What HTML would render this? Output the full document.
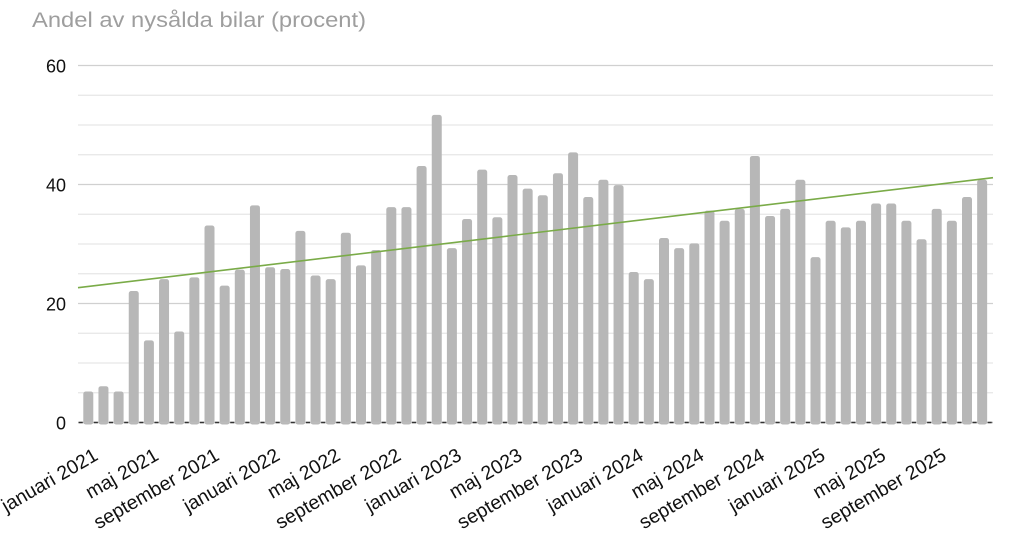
<!DOCTYPE html>
<html><head><meta charset="utf-8"><style>
html,body{margin:0;padding:0;background:#fff;width:1024px;height:553px;overflow:hidden}
svg{display:block}
text{font-family:"Liberation Sans",Arial,sans-serif}
</style></head><body>
<svg id="c" width="1024" height="553" xmlns="http://www.w3.org/2000/svg">
<text x="32" y="27" font-size="21" fill="#9e9e9e" textLength="334" lengthAdjust="spacingAndGlyphs">Andel av nysålda bilar (procent)</text>
<g id="grid"></g>
<g id="bars"></g>
<g id="lab"></g>
<line x1="78" y1="287.7" x2="993" y2="177.7" stroke="#7aab48" stroke-width="1.6"/>
</svg>
<script>
const v=[5.2,6.1,5.2,22.1,13.8,24.1,15.3,24.4,33.1,23.0,25.7,36.5,26.1,25.8,32.2,24.7,24.1,31.9,26.4,29.0,36.2,36.2,43.1,51.7,29.3,34.2,42.5,34.5,41.6,39.3,38.2,41.9,45.4,37.9,40.8,39.9,25.3,24.1,31.0,29.3,30.1,35.6,33.9,35.9,44.8,34.7,35.9,40.8,27.8,33.9,32.8,33.9,36.8,36.8,33.9,30.8,35.9,33.9,37.9,40.8];
const NS="http://www.w3.org/2000/svg";
function el(p,t,a,txt){const e=document.createElementNS(NS,t);for(const k in a)e.setAttribute(k,a[k]);if(txt!=null)e.textContent=txt;document.getElementById(p).appendChild(e);}
const y0=422.5,k=5.95;
for(let i=1;i<=12;i++){const y=y0-i*5*k;el('grid','line',{x1:78,x2:993,y1:y,y2:y,stroke:(i%4==0)?'#d0d0d0':'#e6e6e6','stroke-width':1.2});}
[0,20,40,60].forEach(t=>el('grid','text',{x:66,y:y0-t*k+7,'font-size':18,'text-anchor':'end',fill:'#111'},String(t)));
const x0=88.3,dx=15.15;
v.forEach((val,i)=>{const cx=x0+i*dx,h=val*k;el('bars','rect',{x:cx-5,y:y0-h,width:10,height:h+2,rx:2.5,fill:'#b7b7b7'});});
el('bars','line',{x1:78,x2:993,y1:y0,y2:y0,stroke:'#bbb','stroke-width':1.5});
for(let i=0;i<=60;i++){const x=x0+(i-0.5)*dx;el('bars','line',{x1:x-2,x2:x+2,y1:y0,y2:y0,stroke:'#333','stroke-width':1.5});}
const names=["januari","maj","september"];
for(let i=0;i<15;i++){const yr=2021+Math.floor(i/3);const cx=x0+i*4*dx+11;
el('lab','text',{x:cx,y:459,'font-size':19.5,'text-anchor':'end',fill:'#111',transform:`rotate(-30 ${cx} 459)`},names[i%3]+" "+yr);}
</script>
</body></html>
